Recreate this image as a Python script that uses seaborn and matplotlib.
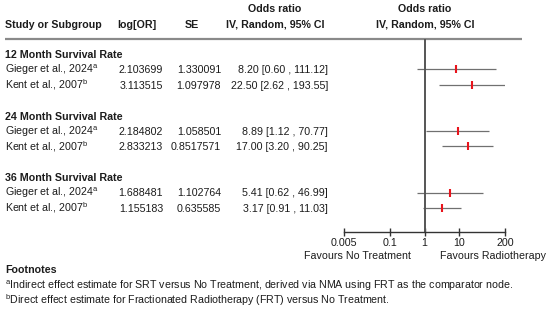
import seaborn as sns
import pandas as pd
import matplotlib.pyplot as plt

# Datos de la tabla
grupos = ['12 Month Survival Rate', '24 Month Survival Rate', '36 Month Survival Rate']
estudios = ['Gieger et al., 2024', 'Kent et al., 2007']
notas = ['a', 'b']
log_or = [2.103699, 3.113515, 2.184802, 2.833213, 1.688481, 1.155183]
se = [1.330091, 1.097978, 1.058501, 0.8517571, 1.102764, 0.635585]
odds = [8.20, 22.50, 8.89, 17.00, 5.41, 3.17]
inferior = [0.60, 2.62, 1.12, 3.20, 0.62, 0.91]
superior = [111.12, 193.55, 70.77, 90.25, 46.99, 11.03]
ticks = [0.005, 0.1, 1, 10, 200]
tick_labels = ['0.005', '0.1', '1', '10', '200']
footnotes = [
    'Indirect effect estimate for SRT versus No Treatment, derived via NMA using FRT as the comparator node.',
    'Direct effect estimate for Fractionated Radiotherapy (FRT) versus No Treatment.',
]

sns.set_style('white')
plt.rcParams['font.family'] = ['Liberation Sans', 'DejaVu Sans']
plt.rcParams['mathtext.fontset'] = 'custom'
plt.rcParams['mathtext.rm'] = 'Liberation Sans'
plt.rcParams['mathtext.it'] = 'Liberation Sans'

fs = 7.7
color_txt = '#1c1c1c'
base = 3.9  # desplazamiento del centro a la linea base

# filas: cada grupo ocupa cabecera + 2 estudios + 1 hueco
filas = []
for g in range(len(grupos)):
    for s in range(len(estudios)):
        filas.append({'grupo': grupos[g], 'estudio': estudios[s], 'nota': notas[s],
                      'fila': g * 4 + s + 1})
df = pd.DataFrame(filas)
df['log_or'] = log_or
df['se'] = se
df['or'] = odds
df['lo'] = inferior
df['hi'] = superior

fig = plt.figure(figsize=(5.5, 3.12), dpi=100)

# Ejes para el texto, en coordenadas de pixel
tax = fig.add_axes([0, 0, 1, 1])
tax.set_xlim(0, 550)
tax.set_ylim(312, 0)
tax.axis('off')

y0, paso = 54, 15.4
def y_fila(i):
    return y0 + paso * i

def texto(x, y, s, ha='left', bold=False):
    tax.text(x, y + base, s, ha=ha, va='baseline', fontsize=fs,
             weight='bold' if bold else 'normal', color=color_txt)

# Cabeceras
texto(275, 8, 'Odds ratio', 'center', True)
texto(425, 8, 'Odds ratio', 'center', True)
texto(5, 24, 'Study or Subgroup', 'left', True)
texto(137, 24, 'log[OR]', 'center', True)
texto(192, 24, 'SE', 'center', True)
texto(275, 24, 'IV, Random, 95% CI', 'center', True)
texto(425, 24, 'IV, Random, 95% CI', 'center', True)
tax.plot([5, 522], [39, 39], color='#8a8a8a', lw=1.6, solid_capstyle='butt')

for g, nombre in enumerate(grupos):
    texto(5, y_fila(g * 4), nombre, 'left', True)

for _, r in df.iterrows():
    y = y_fila(r['fila'])
    texto(5, y, r['estudio'] + '$^{\\mathrm{' + r['nota'] + '}}$')
    texto(163, y, str(r['log_or']), 'right')
    texto(221, y, str(r['se']), 'right')
    texto(328, y, f"{r['or']:.2f} [{r['lo']:.2f} , {r['hi']:.2f}]", 'right')

texto(357, 255, 'Favours No Treatment', 'center')
texto(493, 255, 'Favours Radiotherapy', 'center')

texto(5, 269, 'Footnotes', 'left', True)
for i, nota in enumerate(notas):
    texto(5, 285 + 15 * i, '$^{\\mathrm{' + nota + '}}$' + footnotes[i])

# Ejes del forest plot
x_izq, x_der, y_sup, y_inf = 344, 505, 39, 232
fax = fig.add_axes([x_izq / 550, (312 - y_inf) / 312, (x_der - x_izq) / 550, (y_inf - y_sup) / 312])
fax.set_facecolor('none')
fax.set_xscale('log')
fax.set_xlim(ticks[0], ticks[-1])
fax.set_ylim((y_inf - y0) / paso, (y_sup - y0) / paso)

fax.hlines(df['fila'], df['lo'], df['hi'], color='#707070', lw=0.9)
sns.scatterplot(data=df, x='or', y='fila', marker='|', color='#e8141c', s=30, linewidth=1.5, ax=fax, zorder=3)
fax.axvline(1, color='#555555', lw=1.4)

for lado in ['top', 'right', 'left']:
    fax.spines[lado].set_visible(False)
fax.spines['bottom'].set_color('#333333')
fax.spines['bottom'].set_linewidth(1.0)
fax.set_xticks(ticks)
fax.set_xticklabels(tick_labels)
fax.minorticks_off()
fax.set_yticks([])
fax.tick_params(axis='x', direction='inout', length=6, width=1.0, color='#333333',
                labelsize=fs, labelcolor=color_txt, pad=1.5, bottom=True)
fax.set_xlabel('')
fax.set_ylabel('')

plt.savefig('out.png', dpi=100)
plt.close()
